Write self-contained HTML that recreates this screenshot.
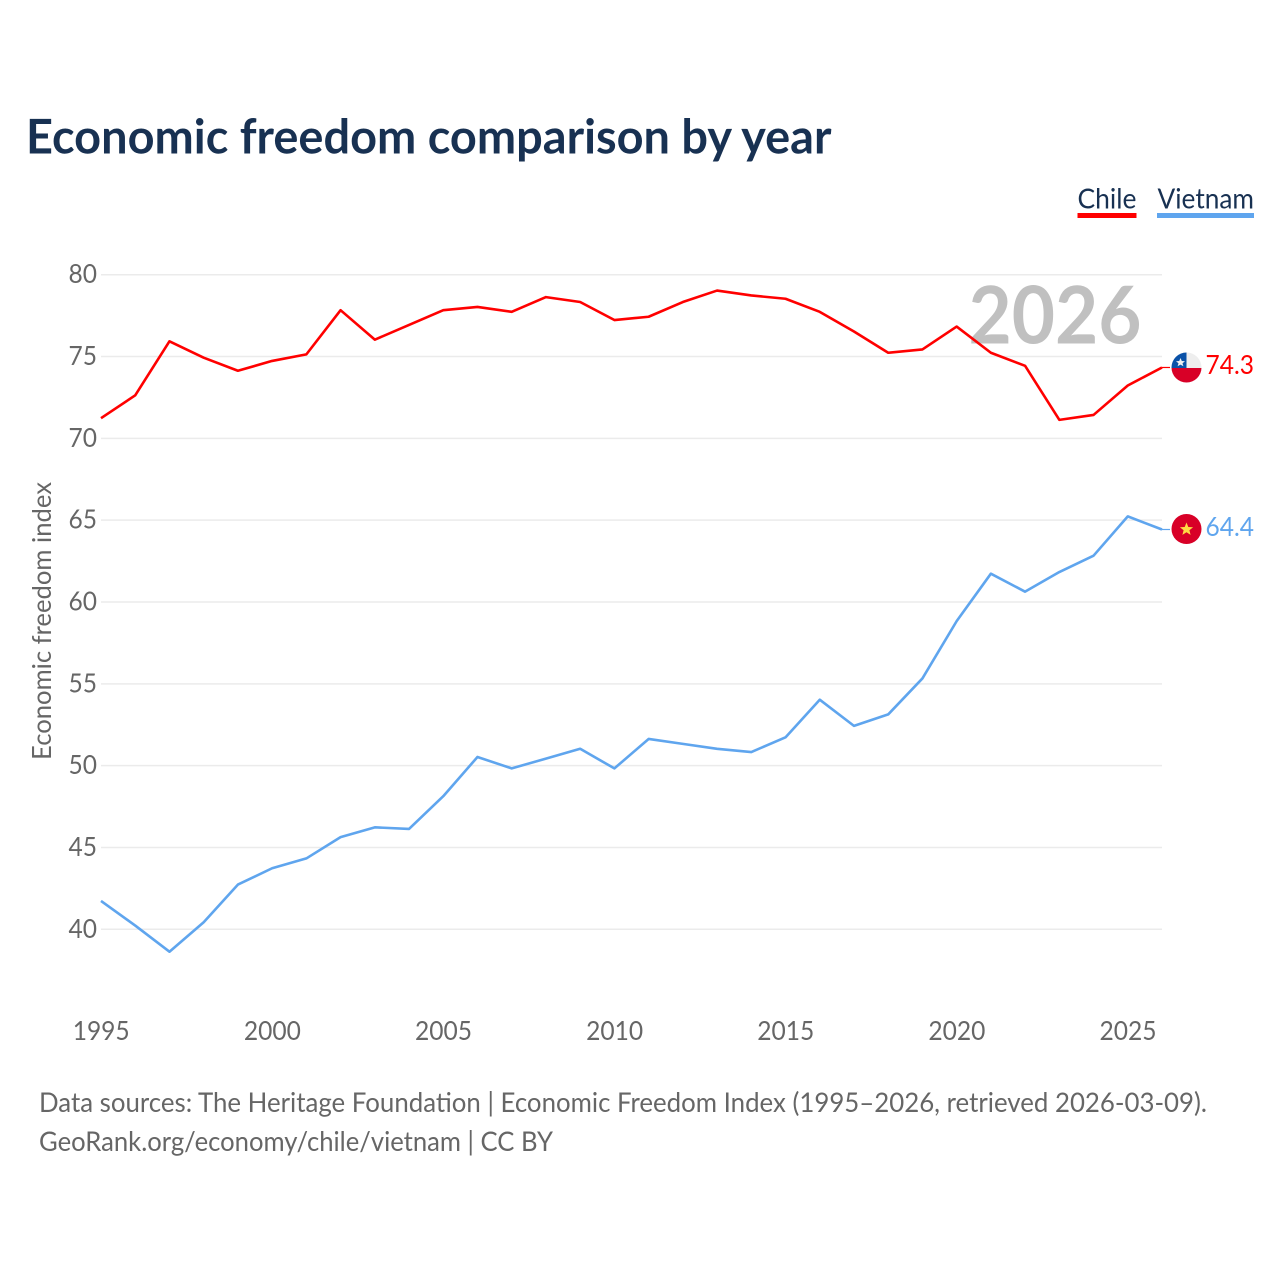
<!DOCTYPE html>
<html>
<head>
<meta charset="utf-8">
<title>Economic freedom comparison by year</title>
<style>
html,body{margin:0;padding:0;background:#fff;width:1280px;height:1280px;overflow:hidden}
svg{display:block}
text{font-family:"Lato","Carlito","Liberation Sans",sans-serif}
</style>
</head>
<body>
<svg id="chart" width="1280" height="1280" viewBox="0 0 1280 1280" xmlns="http://www.w3.org/2000/svg">
  <text x="26" y="153.5" font-size="47.5" font-weight="700" fill="#183152" textLength="805.5" lengthAdjust="spacingAndGlyphs">Economic freedom comparison by year</text>

  <g>
    <text x="1077.5" y="208.5" font-size="28.5" fill="#183152" textLength="59" lengthAdjust="spacingAndGlyphs">Chile</text>
    <rect x="1077.5" y="213" width="59" height="5" fill="#ff0000"/>
  </g>
  <g>
    <text x="1157.5" y="208.5" font-size="28.5" fill="#183152" textLength="96.5" lengthAdjust="spacingAndGlyphs">Vietnam</text>
    <rect x="1157" y="213" width="97" height="5" fill="#5fa5ee"/>
  </g>

  <g id="grid"></g>
  <g id="yticks"></g>
  <g id="xticks"></g>

  <text transform="translate(51 760) rotate(-90)" x="0" y="0" font-size="26" fill="#666666" textLength="278" lengthAdjust="spacingAndGlyphs">Economic freedom index</text>

  <text x="968.5" y="343.5" font-size="80" font-weight="700" fill="#c0c0c0" textLength="173" lengthAdjust="spacingAndGlyphs">2026</text>

  <g id="series"></g>

  <defs>
    <clipPath id="chile-clip"><circle cx="1186.5" cy="367.5" r="15"/></clipPath>
    <clipPath id="vietnam-clip"><circle cx="1186.5" cy="529" r="15"/></clipPath>
  </defs>
  <g clip-path="url(#chile-clip)">
    <rect x="1171" y="352" width="31" height="16" fill="#eeeeee"/>
    <rect x="1171" y="352" width="15.5" height="16" fill="#0a52a8"/>
    <rect x="1171" y="368" width="31" height="16" fill="#d80027"/>
    <polygon points="1180.5,358 1181.8,361 1185,361.2 1182.5,363.2 1183.4,366.3 1180.5,364.6 1177.6,366.3 1178.5,363.2 1176,361.2 1179.2,361" fill="#f0f0f0"/>
  </g>
  <g clip-path="url(#vietnam-clip)">
    <rect x="1171" y="514" width="31" height="30" fill="#d80027"/>
    <polygon points="1186.5,522.5 1188.3,527 1193.1,527.2 1189.4,530.2 1190.6,534.9 1186.5,532.3 1182.4,534.9 1183.6,530.2 1179.9,527.2 1184.7,527" fill="#ffda44"/>
  </g>

  <g>
    <text x="39" y="1112" font-size="27" fill="#666666" textLength="1168" lengthAdjust="spacingAndGlyphs">Data sources: The Heritage Foundation | Economic Freedom Index (1995–2026, retrieved 2026-03-09).</text>
    <text x="39" y="1151" font-size="27" fill="#666666" textLength="514" lengthAdjust="spacingAndGlyphs">GeoRank.org/economy/chile/vietnam | CC BY</text>
  </g>
</svg>
<script>
const years = [1995,1996,1997,1998,1999,2000,2001,2002,2003,2004,2005,2006,2007,2008,2009,2010,2011,2012,2013,2014,2015,2016,2017,2018,2019,2020,2021,2022,2023,2024,2025,2026];
const chileValues = [71.2,72.6,75.9,74.9,74.1,74.7,75.1,77.8,76.0,76.9,77.8,78.0,77.7,78.6,78.3,77.2,77.4,78.3,79.0,78.7,78.5,77.7,76.5,75.2,75.4,76.8,75.2,74.4,71.1,71.4,73.2,74.3];
const vietnamValues = [41.7,40.2,38.6,40.4,42.7,43.7,44.3,45.6,46.2,46.1,48.1,50.5,49.8,50.4,51.0,49.8,51.6,51.3,51.0,50.8,51.7,54.0,52.4,53.1,55.3,58.8,61.7,60.6,61.8,62.8,65.2,64.4];
const yTickValues = [40,45,50,55,60,65,70,75,80];
const xTickValues = [1995,2000,2005,2010,2015,2020,2025];

const NS = 'http://www.w3.org/2000/svg';
function xScale(year){ return 101 + (year - 1995) * (1162 - 101) / (2026 - 1995); }
function yScale(v){ return 929.3 - (v - 40) * (929.3 - 274.7) / 40; }
function make(tag, attrs, parent, content){
  const el = document.createElementNS(NS, tag);
  for (const k in attrs) el.setAttribute(k, attrs[k]);
  if (content !== undefined) el.textContent = content;
  parent.appendChild(el);
  return el;
}

const grid = document.getElementById('grid');
const yticks = document.getElementById('yticks');
yTickValues.forEach(function(v){
  const line = make('line', {x1:101, x2:1162, y1:yScale(v), y2:yScale(v), stroke:'#ebebeb', 'stroke-width':1.5}, grid);
  
  
  const label = make('text', {x:97, y:yScale(v)+8.5, 'font-size':26.5, fill:'#666666', 'text-anchor':'end', textLength:28.5, lengthAdjust:'spacingAndGlyphs'}, yticks, String(v));
  
  
});

const xticks = document.getElementById('xticks');
xTickValues.forEach(function(y){
  const label = make('text', {x:xScale(y)-28.3, y:1040, 'font-size':26.5, fill:'#666666', textLength:57, lengthAdjust:'spacingAndGlyphs'}, xticks, String(y));
  
  
});

const seriesGroup = document.getElementById('series');
function drawSeries(values, color, seriesName){
  const pts = values.map(function(v, i){ return xScale(years[i]).toFixed(2) + ',' + (yScale(v) - 0.5).toFixed(2); }).join(' ');
  const line = make('polyline', {points:pts, fill:'none', stroke:color, 'stroke-width':2.6, 'stroke-linejoin':'round'}, seriesGroup);
  
  
  const last = values[values.length - 1];
  const yEnd = yScale(last) - 0.5;
  const connector = make('line', {x1:xScale(years[years.length-1]), x2:1170, y1:yEnd, y2:yEnd, stroke:color, 'stroke-width':1.2}, seriesGroup);
  
  
  const label = make('text', {x:1205.5, y:yEnd+6.5, 'font-size':26.5, fill:color, textLength:48.5, lengthAdjust:'spacingAndGlyphs'}, seriesGroup, last.toFixed(1));
  
  
}
drawSeries(chileValues, '#ff0000', 'chile');
drawSeries(vietnamValues, '#5fa5ee', 'vietnam');
</script>
</body>
</html>
